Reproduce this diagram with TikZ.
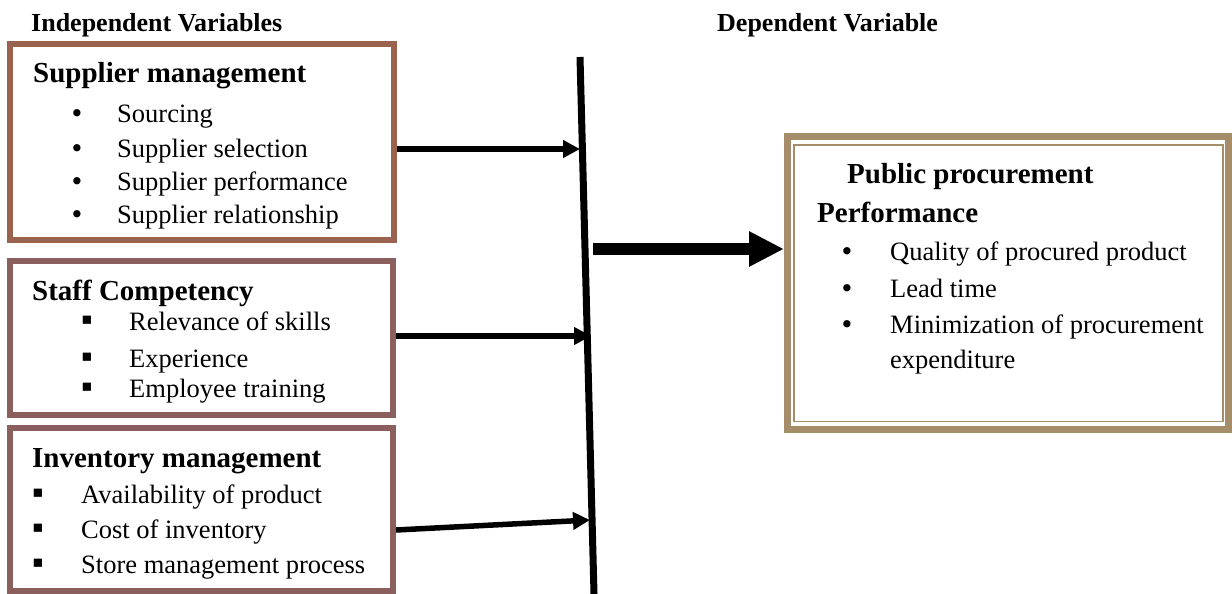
\documentclass[tikz,border=0pt]{standalone}
\usepackage{fontspec}
\setmainfont{Liberation Serif}
\newfontfamily\dejavu{DejaVu Sans}
\usetikzlibrary{arrows.meta,calc}
\definecolor{supbrown}{HTML}{9A6350}
\definecolor{mauve}{HTML}{8A5F5E}
\definecolor{gold}{HTML}{A68D6A}
\tikzset{
  txt/.style={anchor=base west, inner sep=0pt, font=\fontsize{26.5}{30}\selectfont},
  head/.style={anchor=base west, inner sep=0pt, font=\fontsize{29}{34}\selectfont\bfseries},
  ttl/.style={anchor=base west, inner sep=0pt, font=\fontsize{26}{30}\selectfont\bfseries},
  bul/.style={anchor=base, inner sep=0pt, font=\dejavu\fontsize{25}{30}\selectfont},
  sqbul/.style={anchor=base, inner sep=0pt, font=\fontsize{33}{30}\selectfont},
  ivbox/.style={draw, rectangle, inner sep=0pt, line width=6pt},
  thinarrow/.style={line width=5.5pt, -{Triangle[length=17pt,width=17pt]}},
  bigarrow/.style={line width=12pt, -{Triangle[length=35pt,width=33pt]}},
}
\begin{document}
\begin{tikzpicture}[x=1pt,y=-1pt]
\useasboundingbox (0,0) rectangle (1232,594);
% titles
\node[ttl] (tind) at (31,32) {Independent Variables};
\node[ttl] (tdep) at (717,32) {Dependent Variable};
% boxes
\node[ivbox, draw=supbrown, minimum width=384pt, minimum height=196pt] (sup) at (202,142) {};
\node[ivbox, draw=mauve, minimum width=383pt, minimum height=154pt] (staff) at (201.5,338) {};
\node[ivbox, draw=mauve, minimum width=383pt, minimum height=163pt] (inv) at (201.5,509.5) {};
\node[draw=gold, line width=7pt, rectangle, inner sep=0pt, minimum width=441pt, minimum height=293pt] (perf) at (1008,283) {};
\node[draw=gold, line width=1.8pt, rectangle, inner sep=0pt, minimum width=429pt, minimum height=276.5pt] (perfin) at (1008.5,283.25) {};
% supplier text
\node[head] (h1) at (33,83) {Supplier management};
\node[bul] (b11) at (77,122) {•};
\node[txt] (s11) at (117,122) {Sourcing};
\node[bul] (b12) at (77,157) {•};
\node[txt] (s12) at (117,157) {Supplier selection};
\node[bul] (b13) at (77,190) {•};
\node[txt] (s13) at (117,190) {Supplier performance};
\node[bul] (b14) at (77,223) {•};
\node[txt] (s14) at (117,223) {Supplier relationship};
% staff text
\node[head] (h2) at (32,300) {Staff Competency};
\node[sqbul] (b21) at (87,330) {▪};
\node[txt] (s21) at (129,330) {Relevance of skills};
\node[sqbul] (b22) at (87,367) {▪};
\node[txt] (s22) at (129,367) {Experience};
\node[sqbul] (b23) at (87,397) {▪};
\node[txt] (s23) at (129,397) {Employee training};
% inventory text
\node[head] (h3) at (32,467) {Inventory management};
\node[sqbul] (b31) at (38,503) {▪};
\node[txt] (s31) at (81,503) {Availability of product};
\node[sqbul] (b32) at (38,538) {▪};
\node[txt] (s32) at (81,538) {Cost of inventory};
\node[sqbul] (b33) at (38,573) {▪};
\node[txt] (s33) at (81,573) {Store management process};
% performance text
\node[head] (h4) at (847,183) {Public procurement};
\node[head] (h5) at (817,222) {Performance};
\node[bul] (b41) at (847,260) {•};
\node[txt] (s41) at (890,260) {Quality of procured product};
\node[bul] (b42) at (847,297) {•};
\node[txt] (s42) at (890,297) {Lead time};
\node[bul] (b43) at (847,333) {•};
\node[txt] (s43) at (890,333) {Minimization of procurement};
\node[txt] (s44) at (890,368) {expenditure};
% vertical bar
\coordinate (vtop) at (580,57);
\coordinate (vbot) at (594,594);
\draw[line width=7pt] (vtop) -- (vbot);
% arrow ends
\coordinate (t1) at (580,149);
\coordinate (t2) at (591,336);
\coordinate (s3) at (396,530);
\coordinate (t3) at (590,520);
\coordinate (b0) at (593,249);
\draw[thinarrow] (sup.east |- t1) -- (t1);
\draw[thinarrow] (staff.east |- t2) -- (t2);
\draw[thinarrow] (inv.east |- s3) -- (t3);
\draw[bigarrow] (b0) -- (perf.west |- b0);
\end{tikzpicture}
\end{document}
